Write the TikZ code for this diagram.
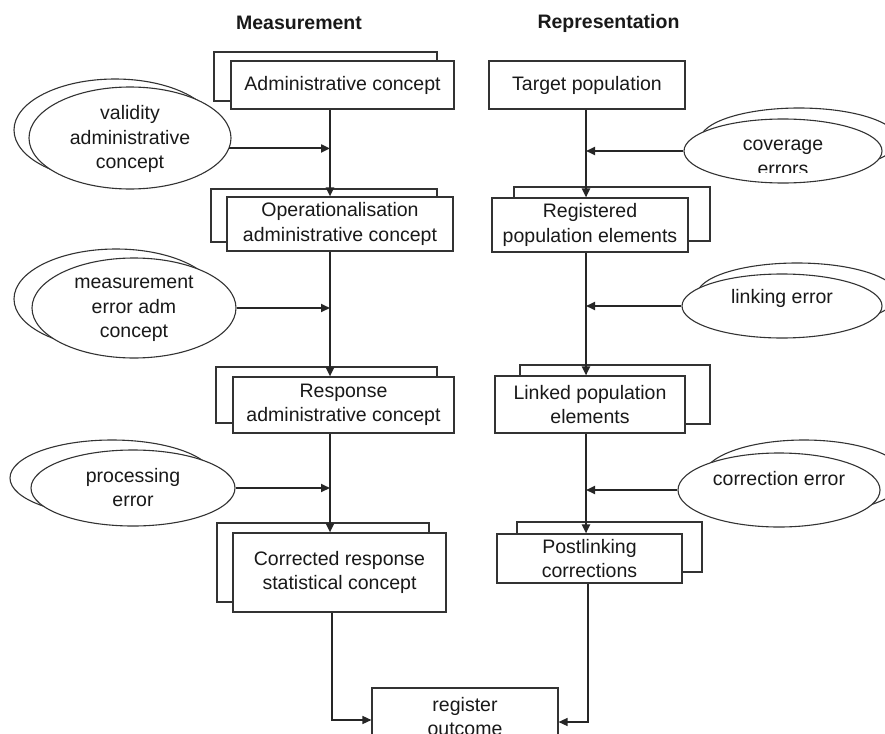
\documentclass[tikz,border=0pt]{standalone}
\usepackage{fontspec}
\setmainfont{Liberation Sans}
\usetikzlibrary{shapes.geometric,arrows.meta}
\newcommand\diagfont{\fontsize{19.5}{24.5}\selectfont}
\begin{document}
\begin{tikzpicture}[x=1pt,y=-1pt,
  box/.style={draw=black!80, line width=1.1pt, fill=white, inner sep=0pt,
    align=center, font=\diagfont, text=black!90},
  ell/.style={ellipse, draw=black!80, line width=1.1pt, fill=white, inner sep=0pt},
  etext/.style={align=center, font=\diagfont, inner sep=0pt, text=black!90},
  head/.style={font=\diagfont\bfseries, inner sep=0pt, text=black!90},
  flow/.style={line width=2pt, draw=black!85, -{Triangle[length=9pt,width=8pt]}},
  feed/.style={line width=1.4pt, draw=black!85, -{Triangle[length=9pt,width=8pt]}}]
\useasboundingbox (0,0) rectangle (885,733);
\begin{scope}
\clip (0,0) rectangle (885,733);

% column headings
\node[head] (hmeas) at (299,23) {Measurement};
\node[head] (hrep) at (608.5,23) {Representation};

% measurement column: stacked boxes (back copy first)
\node[box, minimum width=223pt, minimum height=49pt] (adminB) at (325.5,76.5) {};
\node[box, minimum width=223pt, minimum height=48pt] (admin) at (342.5,85) {Administrative concept};
\node[box, minimum width=226pt, minimum height=53pt] (operB) at (324,215.5) {};
\node[box, minimum width=226pt, minimum height=54pt] (oper) at (340,224) {Operationalisation\\administrative concept};
\node[box, minimum width=221pt, minimum height=56pt] (respB) at (326.5,395) {};
\node[box, minimum width=221pt, minimum height=56pt] (resp) at (343.5,405) {Response\\administrative concept};
\node[box, minimum width=212pt, minimum height=79pt] (corrB) at (323,562.5) {};
\node[box, minimum width=213pt, minimum height=79pt] (corr) at (339.5,572.5) {Corrected response\\statistical concept};

% representation column
\node[box, minimum width=196pt, minimum height=48pt] (target) at (587,85) {Target population};
\node[box, minimum width=196pt, minimum height=54pt] (regdB) at (612,214) {};
\node[box, minimum width=196pt, minimum height=54pt] (regd) at (590,225) {Registered\\population elements};
\node[box, minimum width=190pt, minimum height=59pt] (linkedB) at (615,394.5) {};
\node[box, minimum width=190pt, minimum height=57pt] (linked) at (590,404.5) {Linked population\\elements};
\node[box, minimum width=185pt, minimum height=50pt] (postB) at (609.5,547) {};
\node[box, minimum width=185pt, minimum height=49pt] (post) at (589.5,558.5) {Postlinking\\corrections};

% joint outcome
\node[box, minimum width=186pt, minimum height=57pt] (reg) at (465,716.5) {register\\outcome};

% error sources, measurement side
\node[ell, minimum width=202pt, minimum height=102pt] (validB) at (115,130) {};
\node[ell, minimum width=202pt, minimum height=102pt] (valid) at (130,138) {};
\node[etext] (validT) at (130,139) {validity\\administrative\\concept};
\node[ell, minimum width=204pt, minimum height=100pt] (measB) at (116,299) {};
\node[ell, minimum width=204pt, minimum height=100pt] (meas) at (134,308) {};
\node[etext] (measT) at (134,309) {measurement\\error adm\\concept};
\node[ell, minimum width=204pt, minimum height=76pt] (procB) at (112,478) {};
\node[ell, minimum width=204pt, minimum height=76pt] (proc) at (133,488) {};
\node[etext] (procT) at (133,487.5) {processing\\error};

% error sources, representation side
\node[ell, minimum width=198pt, minimum height=64pt] (covB) at (799,140) {};
\node[ell, minimum width=198pt, minimum height=64pt] (cov) at (783,151) {};
\begin{scope}
  \clip (684,118) rectangle (882,172);
  \node[etext] (covT) at (783,158) {coverage\\errors};
\end{scope}
\node[ell, minimum width=200pt, minimum height=64pt] (linkB) at (797,295) {};
\node[ell, minimum width=200pt, minimum height=64pt] (link) at (782,306) {};
\node[etext] (linkT) at (782,298) {linking error};
\node[ell, minimum width=202pt, minimum height=74pt] (corrEB) at (804,477) {};
\node[ell, minimum width=202pt, minimum height=74pt] (corrE) at (779,490) {};
\node[etext] (corrET) at (779,479) {correction error};

% main flow lines
\coordinate (mx) at (330,0);
\coordinate (rx) at (586,0);
\draw[flow] (mx |- admin.south) -- (mx |- oper.north);
\draw[flow] (mx |- oper.south) -- (mx |- resp.north);
\draw[flow] (mx |- resp.south) -- (mx |- corr.north);
\draw[flow] (rx |- target.south) -- (rx |- regd.north);
\draw[flow] (rx |- regd.south) -- (rx |- linked.north);
\draw[flow] (rx |- linked.south) -- (rx |- post.north);

% error inputs
\draw[flow] (valid.-6) -- (valid.-6 -| mx);
\draw[flow] (meas.east) -- (meas.east -| mx);
\draw[flow] (proc.east) -- (proc.east -| mx);
\draw[flow] (cov.west) -- (cov.west -| rx);
\draw[flow] (link.west) -- (link.west -| rx);
\draw[flow] (corrE.west) -- (corrE.west -| rx);

% both columns feed the outcome
\coordinate (inL) at ([yshift=-3.5pt]reg.west);
\coordinate (inR) at ([yshift=-5.5pt]reg.east);
\draw[feed] ([xshift=2pt]mx |- corr.south) |- (inL);
\draw[feed] ([xshift=2pt]rx |- post.south) |- (inR);
\end{scope}
\end{tikzpicture}
\end{document}
